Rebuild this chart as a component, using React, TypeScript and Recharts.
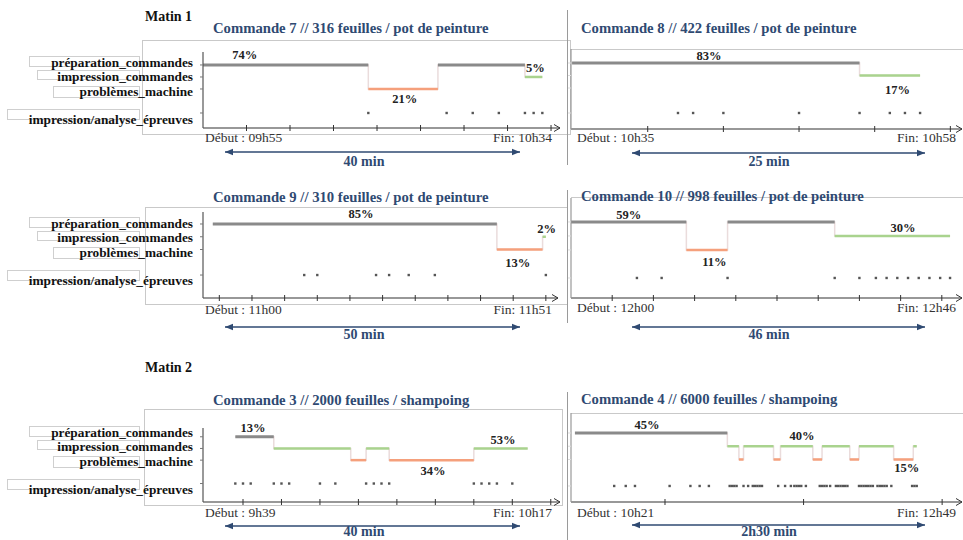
import React from 'react';
import { ComposedChart, Line, Scatter, XAxis, YAxis } from 'recharts';

type State = 'prep' | 'impr' | 'prob';

const FONT = '"Liberation Serif", "Times New Roman", serif';
const NAVY = '#2f4a72';
const COLORS: Record<State, string> = { prep: '#8a8a8a', impr: '#a9d38e', prob: '#f5a07c' };
const LEVEL: Record<State, number> = { prep: 5, impr: 4, prob: 3 };
const TEST_LEVEL = 1;

const categoryLabels = [
    'préparation_commandes',
    'impression_commandes',
    'problèmes_machine',
    'impression/analyse_épreuves',
];

// temps en minutes depuis le début de la commande
const c7Bounds = [0, 19, 27, 37, 39];
const c7States: State[] = ['prep', 'prob', 'prep', 'impr'];
const c7Tests = [19, 28, 31, 34, 37, 38, 39];
const c7Pct = ['74%', '21%', '5%'];
const c7Ticks = [5, 10, 15, 20, 25, 30, 35, 40];

const c8Bounds = [0, 19, 23];
const c8States: State[] = ['prep', 'impr'];
const c8Tests = [7, 8, 10, 15, 19, 21, 22, 23];
const c8Pct = ['83%', '17%'];
const c8Ticks = [5, 10, 15, 20, 25];

const c9Bounds = [0, 43.5, 50.5, 51];
const c9States: State[] = ['prep', 'prob', 'impr'];
const c9Tests = [14, 16, 25, 27, 30, 34, 51];
const c9Pct = ['85%', '13%', '2%'];
const c9Ticks = [1, 6, 11, 16, 21, 26, 31, 36, 41, 46, 51];

const c10Bounds = [0, 14, 19, 32, 46];
const c10States: State[] = ['prep', 'prob', 'prep', 'impr'];
const c10Tests = [8, 11, 19, 32, 35, 37, 38.3, 39.6, 40.9, 42.2, 43.5, 44.8, 46];
const c10Pct = ['59%', '11%', '30%'];
const c10Ticks = [5, 10, 15, 20, 25, 30, 35, 40, 45];

const c3Bounds = [0, 5, 15, 17, 20, 31, 38];
const c3States: State[] = ['prep', 'impr', 'prob', 'impr', 'prob', 'impr'];
const c3Tests = [0, 1, 2, 5, 6, 7, 11, 13, 17, 18, 19, 20, 31, 32, 33, 34, 36];
const c3Pct = ['13%', '53%', '34%'];
const c3Ticks = [1, 6, 11, 16, 21, 26, 31, 36, 41];

const c4Bounds = [0, 66, 71, 73, 86, 89, 103, 107, 119, 123, 138, 146.5, 148];
const c4States: State[] = ['prep', 'impr', 'prob', 'impr', 'prob', 'impr', 'prob', 'impr', 'prob', 'impr', 'prob', 'impr'];
const c4Tests = [
    17, 22, 26, 41, 50, 54, 58, 67, 68, 69, 70, 73, 75, 77, 78, 79, 80, 81, 88, 91, 93.5, 95, 96, 97, 98, 100,
    106, 107, 108, 109, 110.5, 113, 114, 115, 116, 117, 118, 123, 124, 125, 126, 127, 128, 129, 131, 132, 133,
    134, 135, 137, 146, 147, 148,
];
const c4Pct = ['45%', '40%', '15%'];
const c4Ticks = [39, 99, 159];

interface Panel {
    title: string;
    start: string;
    end: string;
    duration: string;
    bounds: number[];
    states: State[];
    tests: number[];
    pct: string[];
    pctAt: [number, number][];
    ticks: number[];
    x: [number, number];
    y: [number, number];
    axisX: number;
    axisY: number;
    top: number;
    axisEnd: number;
    side: 'left' | 'right';
    titleY: number;
    startY: number;
    arrowY: number;
    durY: number;
}

const panels: Panel[] = [
    {
        title: 'Commande 7 // 316 feuilles / pot de peinture', start: 'Début : 09h55', end: 'Fin: 10h34', duration: '40 min',
        bounds: c7Bounds, states: c7States, tests: c7Tests, pct: c7Pct, ticks: c7Ticks,
        pctAt: [[4.8, 5.83], [23.2, 2.17], [38.2, 4.75]],
        x: [0, 41.03], y: [-0.25, 6.08], axisX: 203, axisY: 128, top: 52, axisEnd: 560,
        side: 'left', titleY: 28, startY: 138, arrowY: 152, durY: 162,
    },
    {
        title: 'Commande 8 // 422 feuilles / pot de peinture', start: 'Début : 10h35', end: 'Fin: 10h58', duration: '25 min',
        bounds: c8Bounds, states: c8States, tests: c8Tests, pct: c8Pct, ticks: c8Ticks,
        pctAt: [[9.05, 5.56], [21.5, 2.84]],
        x: [-0.07, 25.77], y: [-0.28, 6.12], axisX: 571, axisY: 129, top: 49, axisEnd: 962,
        side: 'right', titleY: 28, startY: 138, arrowY: 153, durY: 162,
    },
    {
        title: 'Commande 9 // 310 feuilles / pot de peinture', start: 'Début : 11h00', end: 'Fin: 11h51', duration: '50 min',
        bounds: c9Bounds, states: c9States, tests: c9Tests, pct: c9Pct, ticks: c9Ticks,
        pctAt: [[22.7, 5.78], [46.7, 1.94], [51.1, 4.61]],
        x: [-1.5, 52.86], y: [-0.8, 5.94], axisX: 203, axisY: 298, top: 212, axisEnd: 558,
        side: 'left', titleY: 197, startY: 310, arrowY: 327, durY: 335,
    },
    {
        title: 'Commande 10 // 998 feuilles / pot de peinture', start: 'Début : 12h00', end: 'Fin: 12h46', duration: '46 min',
        bounds: c10Bounds, states: c10States, tests: c10Tests, pct: c10Pct, ticks: c10Ticks,
        pctAt: [[7.0, 5.5], [17.4, 2.14], [40.3, 4.57]],
        x: [0, 47.45], y: [-0.43, 6.71], axisX: 571, axisY: 298, top: 198, axisEnd: 962,
        side: 'right', titleY: 196, startY: 308, arrowY: 327, durY: 335,
    },
    {
        title: 'Commande 3 // 2000 feuilles / shampoing', start: 'Début : 9h39', end: 'Fin: 10h17', duration: '40 min',
        bounds: c3Bounds, states: c3States, tests: c3Tests, pct: c3Pct, ticks: c3Ticks,
        pctAt: [[2.3, 5.75], [34.8, 4.75], [25.7, 2.08]],
        x: [-4.2, 42.2], y: [-0.58, 5.58], axisX: 203, axisY: 502, top: 428, axisEnd: 560,
        side: 'left', titleY: 400, startY: 513, arrowY: 526, durY: 532,
    },
    {
        title: 'Commande 4 // 6000 feuilles / shampoing', start: 'Début : 10h21', end: 'Fin: 12h49', duration: '2h30 min',
        bounds: c4Bounds, states: c4States, tests: c4Tests, pct: c4Pct, ticks: c4Ticks,
        pctAt: [[31.2, 5.6], [98.3, 4.77], [143.7, 2.36]],
        x: [-1.7, 167.6], y: [-0.21, 6.51], axisX: 571, axisY: 502, top: 413, axisEnd: 962,
        side: 'right', titleY: 399, startY: 513, arrowY: 525, durY: 532,
    },
];

const YW = 12;
const MT = 18;
const MR = 8;
const XH = 6;

const EmptyTick = () => <g />;

const XTick = (props: any) => (
    <line x1={props.x} x2={props.x} y1={props.y - 3} y2={props.y + 3} stroke="#333" strokeWidth={1} />
);

const TestDot = (props: any) => (
    <rect x={props.cx - 1.2} y={props.cy - 1.2} width={2.4} height={2.4} fill="#555" />
);

const PctLabel = (props: any) => (
    <text
        x={props.cx}
        y={props.cy}
        textAnchor="middle"
        dominantBaseline="central"
        fontFamily={FONT}
        fontWeight="bold"
        fontSize={12.5}
        fill="#222"
    >
        {props.payload.text}
    </text>
);

const AxisArrow = (props: any) => (
    <path
        d={`M${props.cx - 6},${props.cy - 3.5} L${props.cx},${props.cy} L${props.cx - 6},${props.cy + 3.5}`}
        stroke="#333"
        strokeWidth={1}
        fill="none"
    />
);

const PanelChart = ({ p }: { p: Panel }) => {
    const plotW = p.axisEnd - p.axisX;
    const plotH = p.axisY - p.top;
    const segs = p.states.map((s, i) => ({
        state: s,
        data: [
            { t: p.bounds[i], y: LEVEL[s] },
            { t: p.bounds[i + 1], y: LEVEL[s] },
        ],
    }));
    const last = p.states[p.states.length - 1];
    const steps = p.states
        .map((s, i) => ({ t: p.bounds[i], y: LEVEL[s] }))
        .concat([{ t: p.bounds[p.bounds.length - 1], y: LEVEL[last] }]);
    const tests = p.tests.map((t) => ({ t, y: TEST_LEVEL }));
    const labels = p.pct.map((text, i) => ({ t: p.pctAt[i][0], y: p.pctAt[i][1], text }));
    const arrow = [{ t: p.x[1], y: p.y[0] }];
    const left = p.side === 'left';

    return (
        <div style={{ position: 'absolute', left: p.axisX - YW, top: p.top - MT }}>
            <ComposedChart
                width={YW + plotW + MR}
                height={MT + plotH + XH}
                margin={{ top: MT, right: MR, bottom: 0, left: 0 }}
            >
                <XAxis
                    type="number"
                    dataKey="t"
                    domain={p.x}
                    ticks={p.ticks}
                    interval={0}
                    height={XH}
                    axisLine={{ stroke: '#333', strokeWidth: 1.2 }}
                    tickLine={false}
                    tickSize={0}
                    tickMargin={0}
                    tick={XTick}
                />
                <YAxis
                    type="number"
                    dataKey="y"
                    domain={p.y}
                    ticks={[1, 3, 4, 5]}
                    interval={0}
                    width={YW}
                    axisLine={{ stroke: left ? '#555' : '#999', strokeWidth: 1.2 }}
                    tickLine={{ stroke: left ? '#777' : '#ddd' }}
                    tickSize={3}
                    tick={EmptyTick}
                />
                <Line
                    data={steps}
                    type="stepAfter"
                    dataKey="y"
                    stroke="#eadcdc"
                    strokeWidth={1.5}
                    dot={false}
                    isAnimationActive={false}
                />
                {segs.map((s, i) => (
                    <Line
                        key={`seg-${i}`}
                        data={s.data}
                        dataKey="y"
                        stroke={COLORS[s.state]}
                        strokeWidth={s.state === 'prep' ? 3 : 2.5}
                        dot={false}
                        isAnimationActive={false}
                    />
                ))}
                <Scatter data={tests} dataKey="y" shape={TestDot} isAnimationActive={false} />
                <Scatter data={labels} dataKey="y" shape={PctLabel} isAnimationActive={false} />
                <Scatter data={arrow} dataKey="y" shape={AxisArrow} isAnimationActive={false} />
            </ComposedChart>
        </div>
    );
};

const Txt = ({ x, y, right, size, bold, color, children }: any) => (
    <div
        style={{
            position: 'absolute',
            top: y - 8,
            height: 16,
            lineHeight: '16px',
            left: right === undefined ? x : undefined,
            right: right === undefined ? undefined : 963 - right,
            fontSize: size,
            fontWeight: bold ? 'bold' : 'normal',
            color: color || '#222',
            whiteSpace: 'nowrap',
        }}
    >
        {children}
    </div>
);

const DurationArrow = ({ x1, x2, y }: { x1: number; x2: number; y: number }) => (
    <svg style={{ position: 'absolute', left: x1 - 2, top: y - 5 }} width={x2 - x1 + 4} height={10}>
        <line x1={2} x2={x2 - x1 + 2} y1={5} y2={5} stroke={NAVY} strokeWidth={1.3} />
        <path d="M2,5 L10,1.8 L10,8.2 Z" fill={NAVY} />
        <path d={`M${x2 - x1 + 2},5 L${x2 - x1 - 6},1.8 L${x2 - x1 - 6},8.2 Z`} fill={NAVY} />
    </svg>
);

const labelBoxes = [
    { x: 29, y: 56, w: 111, h: 11 },
    { x: 37, y: 70, w: 103, h: 10 },
    { x: 53, y: 86, w: 87, h: 12 },
    { x: 7, y: 109, w: 133, h: 11 },
];
const labelCenters = [62.5, 77, 92, 120];
const labelOffsets = [0, 161, 370];

const leftFrames = [
    { l: 142, t: 40, r: 571, b: 135 },
    { l: 145, t: 207, r: 568, b: 305 },
    { l: 144, t: 409, r: 563, b: 506 },
];
const rightFrameTops = [49, 197, 413];
const separators = [
    [10, 165],
    [190, 323],
    [392, 540],
];

const App = () => {
    return (
        <div
            style={{
                position: 'absolute',
                left: 0,
                top: 0,
                width: 963,
                height: 540,
                overflow: 'hidden',
                background: '#fff',
                fontFamily: FONT,
            }}
        >
            {leftFrames.map((f, i) => (
                <div
                    key={`lf-${i}`}
                    style={{
                        position: 'absolute',
                        left: f.l,
                        top: f.t,
                        width: f.r - f.l,
                        height: f.b - f.t,
                        border: '1px solid #c9c9c9',
                        boxSizing: 'border-box',
                    }}
                />
            ))}
            {rightFrameTops.map((t, i) => (
                <div
                    key={`rf-${i}`}
                    style={{ position: 'absolute', left: 571, top: t, width: 400, height: 1, background: '#c9c9c9' }}
                />
            ))}
            {separators.map((s, i) => (
                <div
                    key={`sep-${i}`}
                    style={{ position: 'absolute', left: 567, top: s[0], width: 1, height: s[1] - s[0], background: '#9a9a9a' }}
                />
            ))}
            {labelOffsets.map((off) =>
                categoryLabels.map((lab, i) => (
                    <React.Fragment key={`lab-${off}-${i}`}>
                        <div
                            style={{
                                position: 'absolute',
                                left: labelBoxes[i].x,
                                top: labelBoxes[i].y + off,
                                width: labelBoxes[i].w,
                                height: labelBoxes[i].h,
                                border: '1px solid #cfcfcf',
                                boxSizing: 'border-box',
                            }}
                        />
                        <Txt right={193} y={labelCenters[i] + off} size={13.3} bold color="#111">
                            {lab}
                        </Txt>
                    </React.Fragment>
                ))
            )}
            <Txt x={145} y={17} size={14} bold color="#111">Matin 1</Txt>
            <Txt x={145} y={368} size={14} bold color="#111">Matin 2</Txt>
            {panels.map((p, i) => {
                const left = p.side === 'left';
                return (
                    <React.Fragment key={`panel-${i}`}>
                        <Txt x={left ? 213 : 581} y={p.titleY} size={14.7} bold color={NAVY}>
                            {p.title}
                        </Txt>
                        <PanelChart p={p} />
                        <Txt x={left ? 205 : 577} y={p.startY} size={13.5} color="#333">
                            {p.start}
                        </Txt>
                        <Txt right={left ? 552 : 956} y={p.startY} size={13.5} color="#333">
                            {p.end}
                        </Txt>
                        <DurationArrow x1={left ? 225 : 632} x2={left ? 520 : 925} y={p.arrowY} />
                        <div
                            style={{
                                position: 'absolute',
                                left: (left ? 364 : 769) - 60,
                                width: 120,
                                textAlign: 'center',
                                top: p.durY - 8,
                                lineHeight: '16px',
                                fontSize: 14,
                                fontWeight: 'bold',
                                color: NAVY,
                            }}
                        >
                            {p.duration}
                        </div>
                    </React.Fragment>
                );
            })}
        </div>
    );
};

export default App;
